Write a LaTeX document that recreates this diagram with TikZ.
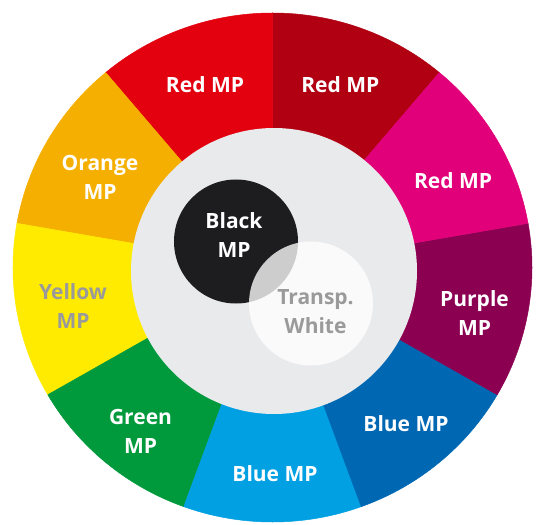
\documentclass[tikz,border=0pt]{standalone}
\usepackage{fontspec}
\newfontfamily\mpfont{Open Sans}
\definecolor{redmp}{HTML}{E3000F}
\definecolor{darkredmp}{HTML}{B00012}
\definecolor{magentamp}{HTML}{E2007A}
\definecolor{purplemp}{HTML}{8C0052}
\definecolor{darkbluemp}{HTML}{0067B2}
\definecolor{lightbluemp}{HTML}{00A0E3}
\definecolor{greenmp}{HTML}{009A3D}
\definecolor{yellowmp}{HTML}{FFEB00}
\definecolor{orangemp}{HTML}{F5AF00}
\definecolor{innergrey}{HTML}{E9EAEC}
\definecolor{blackmp}{HTML}{1D1D1F}
\definecolor{txtgrey}{HTML}{9A9A9A}
\begin{document}
\begin{tikzpicture}[x=1pt,y=1pt,
  lbl/.style={font=\mpfont\bfseries\fontsize{21}{29}\selectfont,text=white,align=center},
  greylbl/.style={lbl,text=txtgrey},
  wedge/.style={fill=#1,draw=#1,line width=0.5pt,line join=round}]
   \useasboundingbox (-272.5,-256.5) rectangle (264.5,267.5);
   % 外側の輪
   \path[wedge=darkredmp] (0,0)--(50:259.5 and 254.5) arc[start angle=50,end angle=90,x radius=259.5,y radius=254.5]--cycle;
   \path[wedge=redmp] (0,0)--(90:259.5 and 254.5) arc[start angle=90,end angle=130,x radius=259.5,y radius=254.5]--cycle;
   \path[wedge=orangemp] (0,0)--(130:259.5 and 254.5) arc[start angle=130,end angle=170,x radius=259.5,y radius=254.5]--cycle;
   \path[wedge=yellowmp] (0,0)--(170:259.5 and 254.5) arc[start angle=170,end angle=210,x radius=259.5,y radius=254.5]--cycle;
   \path[wedge=greenmp] (0,0)--(210:259.5 and 254.5) arc[start angle=210,end angle=250,x radius=259.5,y radius=254.5]--cycle;
   \path[wedge=lightbluemp] (0,0)--(250:259.5 and 254.5) arc[start angle=250,end angle=290,x radius=259.5,y radius=254.5]--cycle;
   \path[wedge=darkbluemp] (0,0)--(290:259.5 and 254.5) arc[start angle=290,end angle=330,x radius=259.5,y radius=254.5]--cycle;
   \path[wedge=purplemp] (0,0)--(330:259.5 and 254.5) arc[start angle=330,end angle=370,x radius=259.5,y radius=254.5]--cycle;
   \path[wedge=magentamp] (0,0)--(10:259.5 and 254.5) arc[start angle=10,end angle=50,x radius=259.5,y radius=254.5]--cycle;

   % 内側
   \fill[innergrey] (1.5,-3.5) circle[radius=143];
   \fill[blackmp] (-36.5,26) circle[radius=62];
   \fill[white,fill opacity=0.78] (38.5,-36) circle[radius=62];

   % ラベル
   \node[lbl] (red1) at (-67.5,183) {Red MP};
   \node[lbl] (red2) at (67.8,183) {Red MP};
   \node[lbl] (red3) at (180.5,86.5) {Red MP};
   \node[lbl] (purple) at (202,-45.5) {Purple\\MP};
   \node[lbl] (blue1) at (133.5,-156) {Blue MP};
   \node[lbl] (blue2) at (2.5,-206.5) {Blue MP};
   \node[lbl] (green) at (-132,-163.5) {Green\\MP};
   \node[greylbl] (yellow) at (-199.5,-39) {Yellow\\MP};
   \node[lbl] (orange) at (-172.5,90) {Orange\\MP};
   \node[lbl] (black) at (-38.5,32.5) {Black\\MP};
   \node[greylbl] (white) at (43,-44.5) {Transp.\\White};
\end{tikzpicture}
\end{document}
